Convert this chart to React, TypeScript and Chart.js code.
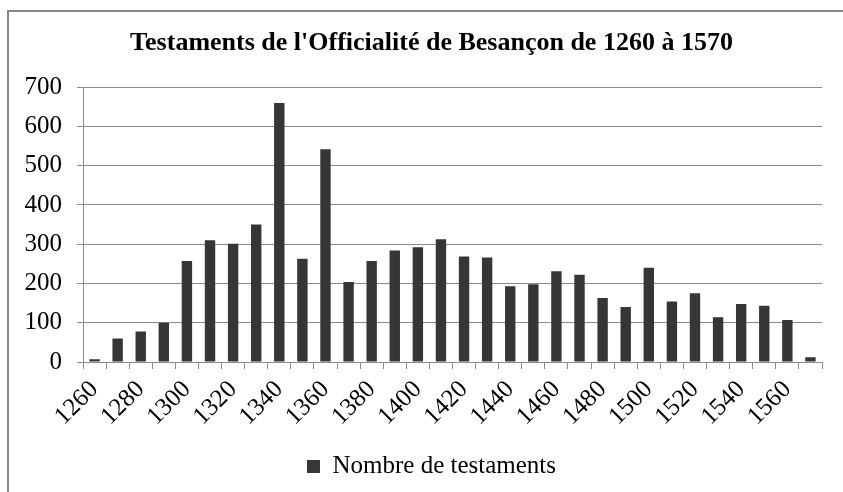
import React, { useEffect, useRef } from "react";
import { Chart, registerables } from "chart.js";

Chart.register(...registerables);

const TITLE = "Testaments de l'Officialité de Besançon de 1260 à 1570";
const SERIES_NAME = "Nombre de testaments";

const years: string[] = [
  "1260", "1270", "1280", "1290", "1300", "1310", "1320", "1330",
  "1340", "1350", "1360", "1370", "1380", "1390", "1400", "1410",
  "1420", "1430", "1440", "1450", "1460", "1470", "1480", "1490",
  "1500", "1510", "1520", "1530", "1540", "1550", "1560", "1570",
];

const counts: number[] = [
  7, 60, 78, 100, 257, 310, 301, 350,
  660, 263, 542, 204, 257, 284, 292, 313,
  269, 266, 193, 198, 231, 222, 163, 140,
  240, 154, 175, 114, 148, 143, 107, 12,
];

const yTicks: number[] = [0, 100, 200, 300, 400, 500, 600, 700];

const FONT = "'Liberation Serif', 'Times New Roman', serif";

// shift the title and legend so they are centred like the reference
const centrePlugin = {
  id: "centreShift",
  afterLayout(chart: any) {
    const dx = 10.5;
    if (chart.titleBlock) {
      chart.titleBlock.left += dx;
      chart.titleBlock.right += dx;
    }
    if (chart.legend) {
      chart.legend.left += dx;
      chart.legend.right += dx;
    }
  },
};

export default function App() {
  const ref = useRef<HTMLCanvasElement | null>(null);

  useEffect(() => {
    document.body.style.margin = "0";
    const canvas = ref.current;
    if (!canvas) return;
    const chart = new Chart(canvas, {
      type: "bar",
      data: {
        labels: years,
        datasets: [
          {
            label: SERIES_NAME,
            data: counts,
            backgroundColor: "#363636",
            borderColor: "#262626",
            borderWidth: 0,
            barPercentage: 0.45,
            categoryPercentage: 1,
          },
        ],
      },
      plugins: [centrePlugin],
      options: {
        responsive: false,
        animation: false,
        devicePixelRatio: 1,
        layout: { padding: { left: 20, right: 21, top: 0, bottom: 3 } },
        plugins: {
          title: {
            display: true,
            text: TITLE,
            color: "#000",
            font: { family: FONT, size: 26, weight: "bold", lineHeight: 1.2 },
            padding: { top: 28, bottom: 28 },
          },
          legend: {
            display: true,
            position: "bottom",
            labels: {
              color: "#000",
              boxWidth: 13,
              boxHeight: 13,
              padding: 10,
              font: { family: FONT, size: 25 },
            },
          },
          tooltip: { enabled: false },
        },
        scales: {
          x: {
            offset: true,
            grid: {
              offset: true,
              drawOnChartArea: false,
              drawTicks: true,
              tickLength: 7,
              color: "#8c8c8c",
            },
            border: { display: true, color: "#8c8c8c" },
            ticks: {
              autoSkip: false,
              maxRotation: 45,
              minRotation: 45,
              padding: 6,
              color: "#000",
              font: { family: FONT, size: 25 },
              callback: function (_v: any, i: number) {
                return i % 2 === 0 ? years[i] : "";
              },
            },
            afterFit: (scale: any) => {
              scale.height = 82;
            },
          },
          y: {
            min: 0,
            max: 700,
            grid: {
              color: "#8c8c8c",
              tickLength: 6,
              drawTicks: true,
            },
            border: { display: true, color: "#8c8c8c" },
            afterBuildTicks: (scale: any) => {
              scale.ticks = yTicks.map((v) => ({ value: v }));
            },
            ticks: {
              padding: 15,
              color: "#000",
              font: { family: FONT, size: 25 },
            },
            afterFit: (scale: any) => {
              scale.width = 63;
            },
          },
        },
      },
    });
    return () => chart.destroy();
  }, []);

  return (
    <div
      style={{
        position: "absolute",
        left: 0,
        top: 0,
        width: 843,
        height: 492,
        overflow: "hidden",
        background: "#fff",
      }}
    >
      <div
        style={{
          position: "absolute",
          left: 7,
          top: 10,
          width: 1000,
          height: 1000,
          border: "2px solid #878787",
        }}
      />
      <canvas
        ref={ref}
        width={843}
        height={492}
        style={{ position: "absolute", left: 0, top: 0, width: 843, height: 492 }}
      />
    </div>
  );
}
